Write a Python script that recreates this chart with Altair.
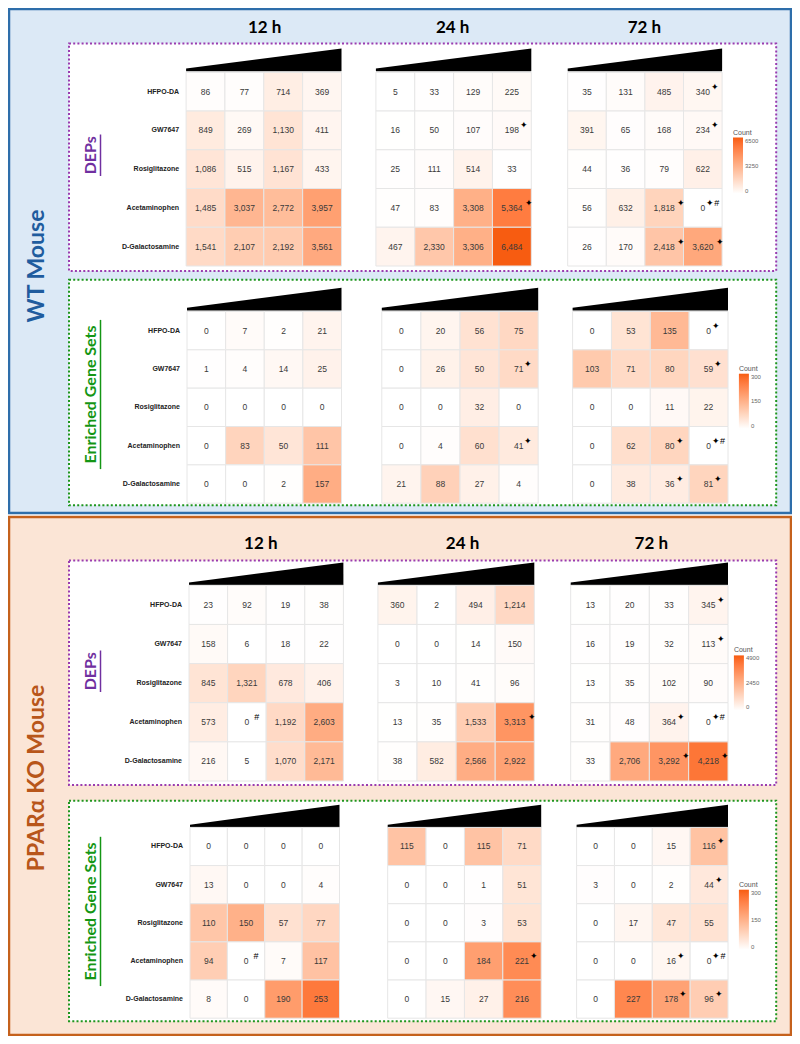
import altair as alt
import pandas as pd

# ---------------- data ----------------
compounds = ["HFPO-DA", "GW7647", "Rosiglitazone", "Acetaminophen", "D-Galactosamine"]
doses = ["Dose 1", "Dose 2", "Dose 3", "Dose 4"]
times = ["12 h", "24 h", "72 h"]

wt_deps_12 = [[86, 77, 714, 369], [849, 269, 1130, 411], [1086, 515, 1167, 433], [1485, 3037, 2772, 3957], [1541, 2107, 2192, 3561]]
wt_deps_24 = [[5, 33, 129, 225], [16, 50, 107, 198], [25, 111, 514, 33], [47, 83, 3308, 5364], [467, 2330, 3306, 6484]]
wt_deps_72 = [[35, 131, 485, 340], [391, 65, 168, 234], [44, 36, 79, 622], [56, 632, 1818, 0], [26, 170, 2418, 3620]]

wt_gene_12 = [[0, 7, 2, 21], [1, 4, 14, 25], [0, 0, 0, 0], [0, 83, 50, 111], [0, 0, 2, 157]]
wt_gene_24 = [[0, 20, 56, 75], [0, 26, 50, 71], [0, 0, 32, 0], [0, 4, 60, 41], [21, 88, 27, 4]]
wt_gene_72 = [[0, 53, 135, 0], [103, 71, 80, 59], [0, 0, 11, 22], [0, 62, 80, 0], [0, 38, 36, 81]]

ko_deps_12 = [[23, 92, 19, 38], [158, 6, 18, 22], [845, 1321, 678, 406], [573, 0, 1192, 2603], [216, 5, 1070, 2171]]
ko_deps_24 = [[360, 2, 494, 1214], [0, 0, 14, 150], [3, 10, 41, 96], [13, 35, 1533, 3313], [38, 582, 2566, 2922]]
ko_deps_72 = [[13, 20, 33, 345], [16, 19, 32, 113], [13, 35, 102, 90], [31, 48, 364, 0], [33, 2706, 3292, 4218]]

ko_gene_12 = [[0, 0, 0, 0], [13, 0, 0, 4], [110, 150, 57, 77], [94, 0, 7, 117], [8, 0, 190, 253]]
ko_gene_24 = [[115, 0, 115, 71], [0, 0, 1, 51], [0, 0, 3, 53], [0, 0, 184, 221], [0, 15, 27, 216]]
ko_gene_72 = [[0, 0, 15, 116], [3, 0, 2, 44], [0, 17, 47, 55], [0, 0, 16, 0], [0, 227, 178, 96]]

S = "\u2726"
none_marks = [["", "", "", ""]] * 5
marks_24_a = [["", "", "", ""], ["", "", "", S], ["", "", "", ""], ["", "", "", S], ["", "", "", ""]]
marks_24_b = [["", "", "", ""], ["", "", "", ""], ["", "", "", ""], ["", "", "", S], ["", "", "", ""]]
marks_72 = [["", "", "", S], ["", "", "", S], ["", "", "", ""], ["", "", S, S + "#"], ["", "", S, S]]
marks_ko_12 = [["", "", "", ""], ["", "", "", ""], ["", "", "", ""], ["", "#", "", ""], ["", "", "", ""]]

wedge_pos = [0, 4]
wedge_h = [0.12, 1.0]

# ---------------- layout helpers ----------------
def X(rx):
    return round(1 + (rx - 2) * 782 / 795, 1)


def Y(ry):
    return round(1 + (ry - 2) * 1026 / 1038, 1)


one = alt.Data(values=[{"k": 0}])


def box(x0, x1, y0, y1, **kw):
    return alt.Chart(one).mark_rect(**kw).encode(
        x=alt.value(X(x0)), x2=alt.value(X(x1)), y=alt.value(Y(y0)), y2=alt.value(Y(y1)))


def label(txt, x, y, **kw):
    return alt.Chart(one).mark_text(text=txt, **kw).encode(x=alt.value(X(x)), y=alt.value(Y(y)))


def vrule(x, y0, y1, color, w):
    return alt.Chart(one).mark_rule(color=color, strokeWidth=w).encode(
        x=alt.value(X(x)), y=alt.value(Y(y0)), y2=alt.value(Y(y1)))


def heat(vals, marks, xr, yr, cmax, legend=None, row_labels=False):
    df = pd.DataFrame([
        {"compound": c, "dose": d, "value": vals[i][j], "mark": marks[i][j]}
        for i, c in enumerate(compounds) for j, d in enumerate(doses)])
    xe = alt.X("dose:N", scale=alt.Scale(domain=doses, range=[X(xr[0]), X(xr[1])],
                                          paddingInner=0, paddingOuter=0), axis=None)
    ye = alt.Y("compound:N", scale=alt.Scale(domain=compounds, range=[Y(yr[0]), Y(yr[1])],
                                              paddingInner=0, paddingOuter=0), axis=None)
    if legend is not None:
        lx, ly, lvals, glen = legend
        leg = alt.Legend(orient="none", legendX=X(lx), legendY=Y(ly) - 11, title="Count",
                         values=lvals, format="d", gradientLength=glen, gradientThickness=10,
                         titleFontSize=7, titleFontWeight="normal", titleColor="#555",
                         titlePadding=2, labelFontSize=6, labelColor="#666",
                         labelFont="Liberation Sans", titleFont="Liberation Sans",
                         labelOverlap=False, direction="vertical", gradientStrokeWidth=0)
    else:
        leg = None
    base = alt.Chart(df)
    rect = base.mark_rect(stroke="#e6e6e6", strokeWidth=1).encode(
        x=xe, y=ye,
        color=alt.Color("value:Q", scale=alt.Scale(domain=[0, cmax], range=["#ffffff", "#f75c10"],
                                                   interpolate="lab"), legend=leg))
    txt = base.mark_text(fontSize=8.5, font="Liberation Sans", color="#3a3a3a").encode(
        x=xe, y=ye, text=alt.Text("value:Q", format=",d"))
    mk = base.transform_filter("datum.mark != ''").mark_text(
        align="left", dy=-5, fontSize=9, color="black",
        dx=alt.expr("length(format(datum.value, ',d')) * 2.4 + 1 + (indexof(datum.mark, '#') == 0 ? 4 : 0)")).encode(
        x=xe, y=ye, text="mark:N")
    layers = [rect, txt, mk]
    if row_labels:
        rl = base.transform_filter(alt.datum.dose == doses[0]).mark_text(
            align="right", fontSize=7, fontWeight="bold", font="Liberation Sans", color="#222").encode(
            x=alt.value(X(xr[0]) - 7), y=ye, text="compound:N")
        layers.append(rl)
    return alt.layer(*layers)


def wedge(xr, yr):
    df = pd.DataFrame({"pos": wedge_pos, "h": wedge_h})
    return alt.Chart(df).mark_area(color="black").encode(
        x=alt.X("pos:Q", scale=alt.Scale(domain=[0, 4], range=[X(xr[0]), X(xr[1])], nice=False, zero=False), axis=None),
        y=alt.Y("h:Q", scale=alt.Scale(domain=[0, 1], range=[Y(yr[1]), Y(yr[0])], nice=False), axis=None),
        y2=alt.Y2Datum(0))


HEAD = "Lato"
layers = []
# outer panels
layers.append(box(2, 797, 2, 512, fill="#dce9f6", stroke="#2e6eaa", strokeWidth=2.5))
layers.append(box(2, 797, 516, 1040, fill="#fbe5d6", stroke="#c5611c", strokeWidth=2.5))
# dotted boxes
dot = dict(fill="white", strokeWidth=2, strokeDash=[2, 2.2])
layers.append(box(63, 782, 37, 267, stroke="#9a3cb0", **dot))
layers.append(box(63, 782, 276, 504, stroke="#1e961e", **dot))
layers.append(box(63, 782, 560, 787, stroke="#9a3cb0", **dot))
layers.append(box(63, 782, 803, 1026, stroke="#1e961e", **dot))

# side labels
layers.append(label("WT Mouse", 30, 262, angle=270, font=HEAD, fontWeight="bold", fontSize=23, color="#1f5c9e"))
layers.append(label("PPAR\u03b1 KO Mouse", 30, 780, angle=270, font=HEAD, fontWeight="bold", fontSize=23, color="#b8561a"))
for yc, ln, txt, col in [(150, 42, "DEPs", "#7030a0"), (392, 151, "Enriched Gene Sets", "#149614"),
                         (672, 42, "DEPs", "#7030a0"), (915, 151, "Enriched Gene Sets", "#149614")]:
    layers.append(label(txt, 85, yc, angle=270, font=HEAD, fontWeight="bold", fontSize=16, color=col))
    layers.append(vrule(95, yc - ln / 2, yc + ln / 2, col, 1.5))

# time titles
for t, xc in zip(times, [262, 453, 648]):
    layers.append(label(t, xc, 21, font=HEAD, fontWeight="bold", fontSize=17, color="black"))
for t, xc in zip(times, [258, 463, 655]):
    layers.append(label(t, xc, 543, font=HEAD, fontWeight="bold", fontSize=17, color="black"))

# ---- WT DEPs
wd_x = [(182, 340), (375, 533), (570, 727)]
wd_y = (66, 262)
for k, (vals, mks) in enumerate([(wt_deps_12, none_marks), (wt_deps_24, marks_24_a), (wt_deps_72, marks_72)]):
    layers.append(wedge(wd_x[k], (42, 65)))
    layers.append(heat(vals, mks, wd_x[k], wd_y, 6500,
                       legend=(738, 134, [0, 3250, 6500], 56) if k == 2 else None, row_labels=(k == 0)))
# ---- WT gene sets
wg_x = [(183, 340), (381, 540), (575, 733)]
wg_y = (308, 502)
for k, (vals, mks) in enumerate([(wt_gene_12, none_marks), (wt_gene_24, marks_24_a), (wt_gene_72, marks_72)]):
    layers.append(wedge(wg_x[k], (284, 307)))
    layers.append(heat(vals, mks, wg_x[k], wg_y, 300,
                       legend=(744, 373, [0, 150, 300], 55) if k == 2 else None, row_labels=(k == 0)))
# ---- KO DEPs
kd_x = [(185, 342), (377, 536), (573, 733)]
kd_y = (585, 783)
for k, (vals, mks) in enumerate([(ko_deps_12, marks_ko_12), (ko_deps_24, marks_24_b), (ko_deps_72, marks_72)]):
    layers.append(wedge(kd_x[k], (562, 585)))
    layers.append(heat(vals, mks, kd_x[k], kd_y, 4900,
                       legend=(739, 658, [0, 2450, 4900], 55) if k == 2 else None, row_labels=(k == 0)))
# ---- KO gene sets
kg_x = [(186, 338), (387, 543), (579, 733)]
kg_y = (830, 1023)
for k, (vals, mks) in enumerate([(ko_gene_12, marks_ko_12), (ko_gene_24, marks_24_b), (ko_gene_72, marks_72)]):
    layers.append(wedge(kg_x[k], (807, 830)))
    layers.append(heat(vals, mks, kg_x[k], kg_y, 300,
                       legend=(744, 895, [0, 150, 300], 60) if k == 2 else None, row_labels=(k == 0)))

chart = alt.layer(*layers).resolve_scale(
    x="independent", y="independent", color="independent"
).properties(
    width=784, height=1028, padding=0, autosize=alt.AutoSizeParams(type="none"), background="white"
).configure_view(stroke=None)

chart.save("out.html", embed_options={"renderer": "svg", "actions": False})
